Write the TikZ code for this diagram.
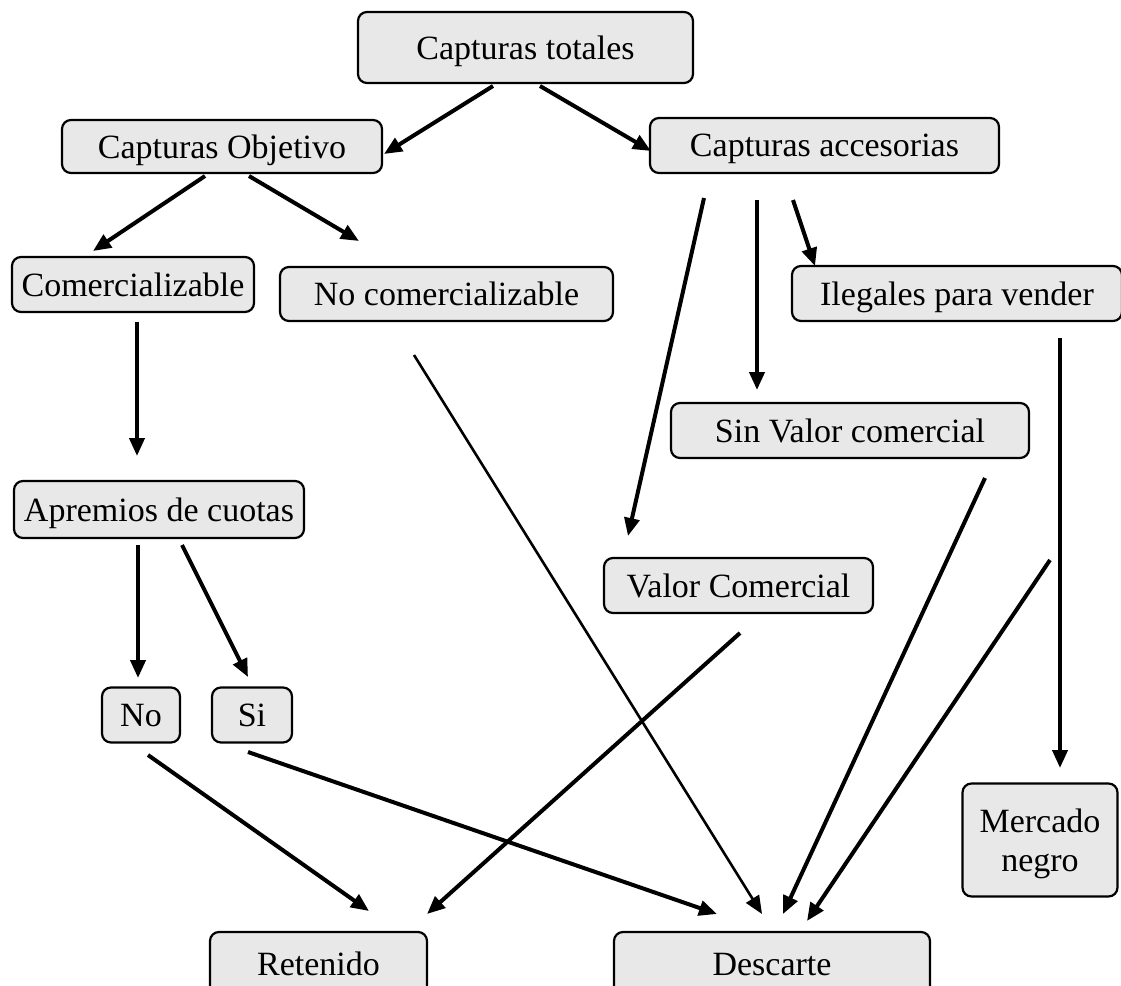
\documentclass[tikz,border=0pt]{standalone}
\usepackage{fontspec}
\setmainfont{Liberation Serif}
\usetikzlibrary{arrows.meta}
\begin{document}
\begin{tikzpicture}[x=1pt,y=-1pt,
  box/.style={draw, line width=2.2pt, rounded corners=9pt, fill=black!9, inner sep=0pt,
              text depth=0pt, font=\fontsize{34}{39}\selectfont, align=center},
  arr/.style={line width=4pt, -{Triangle[length=18pt,width=15pt]}},
  thinarr/.style={line width=2.6pt, -{Triangle[length=18pt,width=15pt]}}]
\useasboundingbox (0,0) rectangle (1121,985);
\clip (0,0) rectangle (1121,985);

% boxes
\node[box, minimum width=335pt, minimum height=71pt] (tot) at (525.5,47.5) {Capturas totales};
\node[box, minimum width=320pt, minimum height=53pt] (obj) at (222,146.5) {Capturas Objetivo};
\node[box, minimum width=349pt, minimum height=55pt] (acc) at (824.5,145.5) {Capturas accesorias};
\node[box, minimum width=242pt, minimum height=55pt] (com) at (133,284.5) {Comercializable};
\node[box, minimum width=333pt, minimum height=54pt] (nocom) at (446.5,294) {No comercializable};
\node[box, minimum width=330pt, minimum height=55pt] (ile) at (957,293.5) {Ilegales para vender};
\node[box, minimum width=358pt, minimum height=55pt] (sinv) at (850,430.5) {Sin Valor comercial};
\node[box, minimum width=290pt, minimum height=57pt] (apr) at (159,509.5) {Apremios de cuotas};
\node[box, minimum width=269pt, minimum height=55pt] (val) at (738.5,585.5) {Valor Comercial};
\node[box, minimum width=78pt, minimum height=55pt] (no) at (141,715) {No};
\node[box, minimum width=80pt, minimum height=55pt] (si) at (252,715) {Si};
\node[box, minimum width=155pt, minimum height=113pt] (mer) at (1040,840) {Mercado\\negro};
\node[box, minimum width=217pt, minimum height=64pt] (ret) at (318.5,964) {Retenido};
\node[box, minimum width=316pt, minimum height=64pt] (des) at (772,964) {Descarte};

% connector end points
\coordinate (a1s) at (493,86);   \coordinate (a1e) at (384,154);
\coordinate (a2s) at (540,86);   \coordinate (a2e) at (651,151);
\coordinate (a3s) at (205,176);  \coordinate (a3e) at (93,251);
\coordinate (a4s) at (249,176);  \coordinate (a4e) at (359,241);
\coordinate (a5s) at (704,198);  \coordinate (a5e) at (628,536);
\coordinate (a6s) at (757,200);  \coordinate (a6e) at (757,390);
\coordinate (a7s) at (793,200);  \coordinate (a7e) at (815,266);
\coordinate (a8s) at (137,322);  \coordinate (a8e) at (137,456);
\coordinate (a9s) at (1060,338); \coordinate (a9e) at (1060,768);
\coordinate (a10s) at (414,355); \coordinate (a10e) at (762,914);
\coordinate (a11s) at (985,478); \coordinate (a11e) at (783,914);
\coordinate (a12s) at (1050,560);\coordinate (a12e) at (807,921);
\coordinate (a13s) at (138,545); \coordinate (a13e) at (138,678);
\coordinate (a14s) at (182,545); \coordinate (a14e) at (248,677);
\coordinate (a15s) at (148,755); \coordinate (a15e) at (369,911);
\coordinate (a16s) at (248,752); \coordinate (a16e) at (717,914);
\coordinate (a17s) at (740,633); \coordinate (a17e) at (427,914);

% connectors
\draw[arr] (a1s) -- (a1e);
\draw[arr] (a2s) -- (a2e);
\draw[arr] (a3s) -- (a3e);
\draw[arr] (a4s) -- (a4e);
\draw[arr] (a5s) -- (a5e);
\draw[arr] (a6s) -- (a6e);
\draw[arr] (a7s) -- (a7e);
\draw[arr] (a8s) -- (a8e);
\draw[arr] (a9s) -- (a9e);
\draw[thinarr] (a10s) -- (a10e);
\draw[arr] (a11s) -- (a11e);
\draw[arr] (a12s) -- (a12e);
\draw[arr] (a13s) -- (a13e);
\draw[arr] (a14s) -- (a14e);
\draw[arr] (a15s) -- (a15e);
\draw[arr] (a16s) -- (a16e);
\draw[arr] (a17s) -- (a17e);
\end{tikzpicture}
\end{document}
